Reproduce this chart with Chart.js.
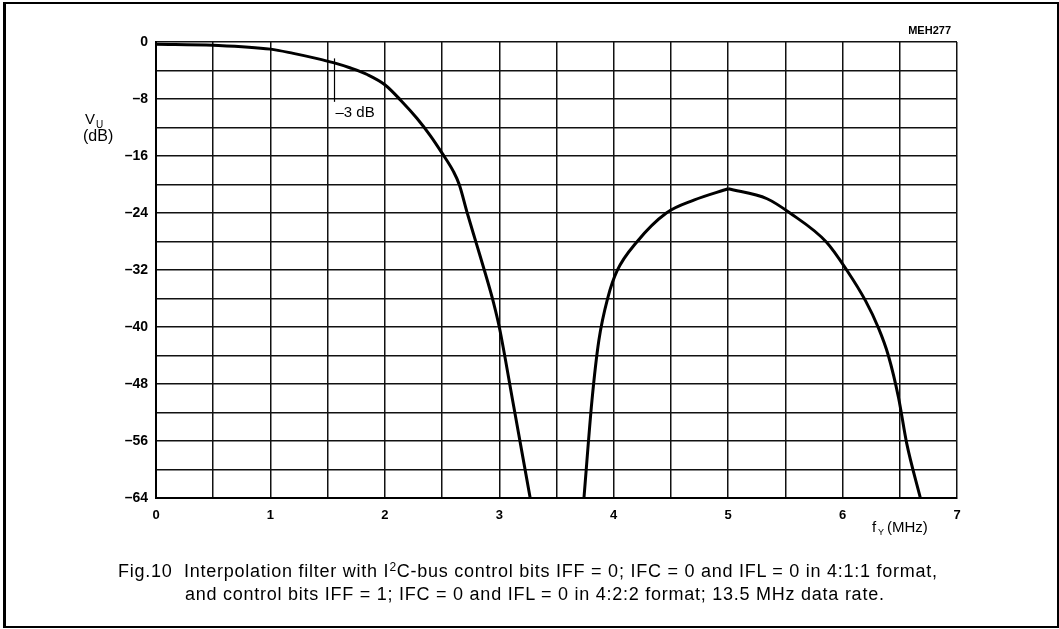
<!DOCTYPE html>
<html lang="en">
<head>
  <meta charset="UTF-8">
  <title>Fig.10 Interpolation filter</title>
  <script src="https://cdn.jsdelivr.net/npm/chart.js"></script>
  <style>
    body {
      margin: 0;
      padding: 0;
      background: #fff;
      font-family: "Liberation Sans", Arial, sans-serif;
      color: #000;
    }
    .frame {
      position: absolute;
      left: 3px;
      top: 2px;
      width: 1051px;
      height: 622px;
      border: 2px solid #000;
      border-left-width: 3px;
    }
    #wrap {
      position: absolute;
      left: 0;
      top: 0;
      width: 1059px;
      height: 629px;
    }
    .caption {
      position: absolute;
      font-size: 18px;
      line-height: 23px;
      letter-spacing: 0.75px;
      white-space: nowrap;
    }
    .caption sup {
      font-size: 12px;
      vertical-align: 6px;
      line-height: 0;
    }
  </style>
</head>
<body>
  <div class="frame"></div>
  <div id="wrap">
    <canvas id="filterChart" width="1059" height="629"></canvas>
  </div>
  <div class="caption" style="left:118px; top:560px;">Fig.10&nbsp;&nbsp;Interpolation filter with I<sup>2</sup>C-bus control bits IFF = 0; IFC = 0 and IFL = 0 in 4:1:1 format,</div>
  <div class="caption" style="left:185px; top:583px;">and control bits IFF = 1; IFC = 0 and IFL = 0 in 4:2:2 format; 13.5 MHz data rate.</div>

  <script>
    // frequency (MHz) and attenuation (dB)
    const lobe1Freq = [0, 0.5, 1.0, 1.2, 1.4, 1.55, 1.7, 1.85, 2.0, 2.14, 2.28, 2.4, 2.5, 2.6, 2.65, 2.72, 2.8, 2.88, 2.95, 3.0, 3.12, 3.27];
    const lobe1Gain = [-0.3, -0.45, -1.0, -1.6, -2.3, -2.9, -3.65, -4.6, -6.0, -8.2, -10.7, -13.2, -15.6, -18.2, -20.0, -24.0, -28.3, -32.6, -36.6, -40.0, -50.6, -64];

    // second lobe, rising side up to the peak at 5 MHz, then falling side
    const lobe2RiseFreq = [3.74, 3.81, 3.87, 3.95, 4.03, 4.2, 4.46, 4.7, 5.0];
    const lobe2RiseGain = [-64, -50.3, -41.9, -35.8, -32.1, -28.1, -24.0, -22.2, -20.6];
    const lobe2FallFreq = [5.0, 5.34, 5.54, 5.86, 6.04, 6.2, 6.31, 6.4, 6.49, 6.56, 6.68];
    const lobe2FallGain = [-20.6, -22.0, -24.0, -28.1, -32.1, -36.3, -40.0, -44.0, -50.0, -56.3, -64];

    const xLabels = [0, 1, 2, 3, 4, 5, 6, 7];
    const yLabels = [0, -8, -16, -24, -32, -40, -48, -56, -64];

    // -3 dB marker
    const markerFreq = 1.56;
    const markerTop = -2.3;
    const markerBottom = -8.4;

    function toPoints(xs, ys) {
      return xs.map((x, i) => ({ x: x, y: ys[i] }));
    }

    function curve(label, xs, ys) {
      return {
        label: label,
        data: toPoints(xs, ys),
        borderColor: '#000',
        borderWidth: 3,
        pointRadius: 0,
        fill: false,
        cubicInterpolationMode: 'monotone'
      };
    }

    const fontFamily = "'Liberation Sans', Arial, sans-serif";

    // extra labels drawn on top of the chart
    const labelsPlugin = {
      id: 'labels',
      afterDraw(chart) {
        const ctx = chart.ctx;
        const xs = chart.scales.x;
        const ys = chart.scales.y;
        ctx.save();
        ctx.fillStyle = '#000';
        ctx.strokeStyle = '#000';

        // -3 dB marker line and label
        const mx = xs.getPixelForValue(markerFreq);
        ctx.lineWidth = 1.2;
        ctx.beginPath();
        ctx.moveTo(mx, ys.getPixelForValue(markerTop));
        ctx.lineTo(mx, ys.getPixelForValue(markerBottom));
        ctx.stroke();
        ctx.font = "15px " + fontFamily;
        ctx.textBaseline = 'alphabetic';
        ctx.textAlign = 'left';
        ctx.fillText('\u20133 dB', mx + 1, 117);

        // code
        ctx.font = "bold 11px " + fontFamily;
        ctx.textAlign = 'right';
        ctx.fillText('MEH277', 951, 34);

        // y title
        ctx.textAlign = 'left';
        ctx.font = "15px " + fontFamily;
        ctx.fillText('V', 85, 124);
        ctx.font = "10px " + fontFamily;
        ctx.fillText('U', 96, 128);
        ctx.font = "16px " + fontFamily;
        ctx.fillText('(dB)', 83, 141);

        // x title
        ctx.font = "15px " + fontFamily;
        ctx.fillText('f', 872, 532);
        ctx.font = "9px " + fontFamily;
        ctx.fillText('Y', 878, 535);
        ctx.font = "15px " + fontFamily;
        ctx.fillText('(MHz)', 887, 532);
        ctx.restore();
      }
    };

    const ctx = document.getElementById('filterChart').getContext('2d');
    const filterChart = new Chart(ctx, {
      type: 'line',
      data: {
        datasets: [
          curve('lobe 1', lobe1Freq, lobe1Gain),
          curve('lobe 2 rise', lobe2RiseFreq, lobe2RiseGain),
          curve('lobe 2 fall', lobe2FallFreq, lobe2FallGain)
        ]
      },
      options: {
        responsive: false,
        animation: false,
        layout: {
          padding: { left: 0, top: 42, right: 102, bottom: 0 }
        },
        plugins: {
          legend: { display: false },
          tooltip: { enabled: false }
        },
        scales: {
          x: {
            type: 'linear',
            min: 0,
            max: 7,
            afterFit(scale) { scale.height = 131; },
            border: { display: true, color: '#000', width: 2 },
            grid: { color: '#111', lineWidth: 1.5, drawTicks: false },
            ticks: {
              stepSize: 0.5,
              autoSkip: false,
              maxRotation: 0,
              padding: 10,
              color: '#000',
              font: { family: fontFamily, size: 13, weight: 'bold' },
              callback: (v) => xLabels.includes(v) ? String(v) : ''
            }
          },
          y: {
            type: 'linear',
            min: -64,
            max: 0,
            afterFit(scale) { scale.width = 156; },
            border: { display: true, color: '#000', width: 2 },
            grid: { color: '#111', lineWidth: 1.5, drawTicks: false },
            ticks: {
              stepSize: 4,
              autoSkip: false,
              padding: 8,
              color: '#000',
              font: { family: fontFamily, size: 14, weight: 'bold' },
              callback: (v) => yLabels.includes(v) ? (v < 0 ? '\u2013' + Math.abs(v) : String(v)) : ''
            }
          }
        }
      },
      plugins: [labelsPlugin]
    });
  </script>
</body>
</html>
